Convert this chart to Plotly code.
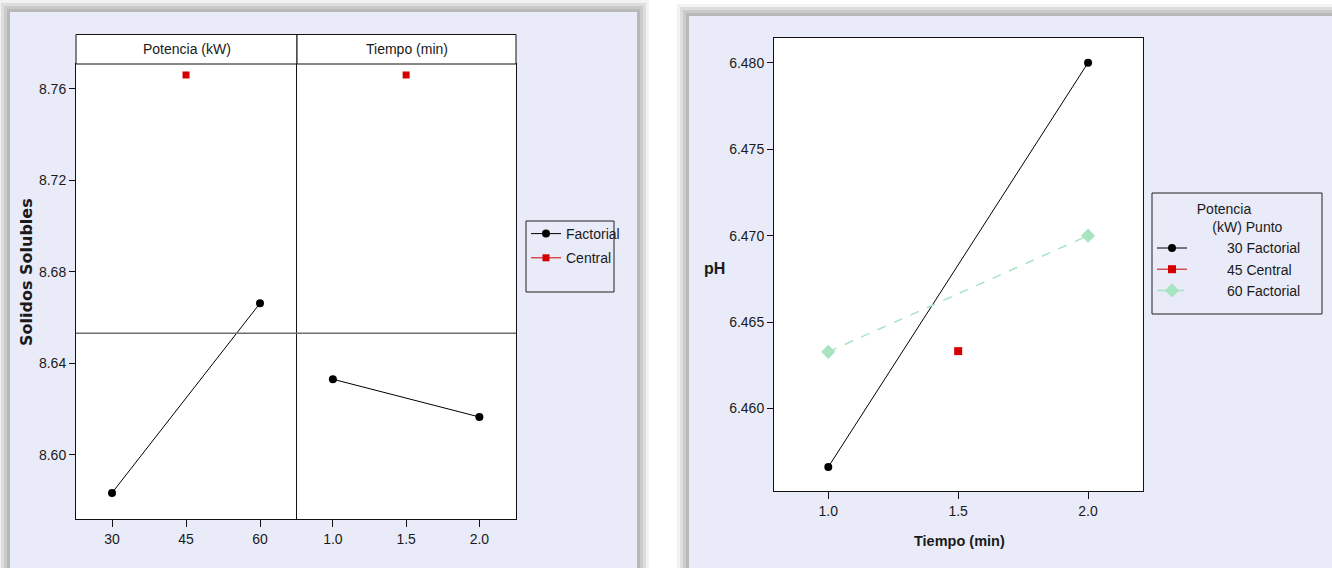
import plotly.graph_objects as go

W, H = 1332, 568

# ---------------- data ----------------
# Left chart: main effects for "Solidos Solubles"
pot_levels = [30, 60]
ss_pot = [8.5834, 8.6663]
tiempo_levels = [1.0, 2.0]
ss_tiempo = [8.6331, 8.6166]
pot_central = [45]
tiempo_central = [1.5]
ss_central = [8.7661]
ss_mean = 8.6532

ss_ticks = [8.60, 8.64, 8.68, 8.72, 8.76]
pot_ticks = [30, 45, 60]
pot_ticktext = ["30", "45", "60"]
tiempo_ticks = [1.0, 1.5, 2.0]
tiempo_ticktext = ["1.0", "1.5", "2.0"]

# Right chart: interaction plot for pH
ph_tiempo = [1.0, 2.0]
ph_30 = [6.45662, 6.480]
ph_60 = [6.46328, 6.470]
ph_central_t = [1.5]
ph_45 = [6.46332]
ph_ticks = [6.460, 6.465, 6.470, 6.475, 6.480]

# ---------------- helpers ----------------
def px(x):
    return x / W

def py(y):
    return 1 - y / H

FONT = "Liberation Sans, Arial, sans-serif"
BOLD_WIDE = "DejaVu Sans, Verdana, sans-serif"
TXT = "#1a1a1a"
LAV = "#E9EBF8"
NB = "\u00a0"
FS = 14
XDIV = 297  # pixel boundary between the two left panels

fig = go.Figure()

# ---------------- traces ----------------
fig.add_trace(go.Scatter(x=pot_levels, y=ss_pot, xaxis="x", yaxis="y",
                         mode="lines+markers", name="Factorial", legend="legend",
                         legendgroup="fact",
                         line=dict(color="black", width=1),
                         marker=dict(symbol="circle", size=8, color="black")))
fig.add_trace(go.Scatter(x=tiempo_levels, y=ss_tiempo, xaxis="x2", yaxis="y2",
                         mode="lines+markers", name="Factorial", legendgroup="fact",
                         showlegend=False,
                         line=dict(color="black", width=1),
                         marker=dict(symbol="circle", size=8, color="black")))
fig.add_trace(go.Scatter(x=pot_central, y=ss_central, xaxis="x", yaxis="y",
                         mode="lines+markers", name="Central", legend="legend",
                         legendgroup="cent",
                         line=dict(color="#D40000", width=1),
                         marker=dict(symbol="square", size=7, color="#D40000")))
fig.add_trace(go.Scatter(x=tiempo_central, y=ss_central, xaxis="x2", yaxis="y2",
                         mode="lines+markers", name="Central", legendgroup="cent",
                         showlegend=False,
                         line=dict(color="#D40000", width=1),
                         marker=dict(symbol="square", size=7, color="#D40000")))

fig.add_trace(go.Scatter(x=ph_tiempo, y=ph_30, xaxis="x3", yaxis="y3",
                         mode="lines+markers", legend="legend2",
                         name=NB * 9 + "30 Factorial",
                         line=dict(color="black", width=1),
                         marker=dict(symbol="circle", size=8, color="black")))
fig.add_trace(go.Scatter(x=ph_central_t, y=ph_45, xaxis="x3", yaxis="y3",
                         mode="lines+markers", legend="legend2",
                         name=NB * 9 + "45 Central",
                         line=dict(color="#D40000", width=1),
                         marker=dict(symbol="square", size=8, color="#D40000")))
fig.add_trace(go.Scatter(x=ph_tiempo, y=ph_60, xaxis="x3", yaxis="y3",
                         mode="lines+markers", legend="legend2",
                         name=NB * 9 + "60 Factorial",
                         line=dict(color="#A8E4C2", width=1.5, dash="dash"),
                         marker=dict(symbol="diamond", size=11, color="#A8E4C2")))

# ---------------- axes ----------------
base = dict(showgrid=False, zeroline=False, showline=True,
            linecolor="#111", linewidth=1, ticks="outside", tickcolor="#111",
            tickfont=dict(family=FONT, size=FS, color=TXT))

fig.update_layout(
    xaxis=dict(domain=[px(76), px(XDIV)], range=[22.7, 67.5], anchor="y", mirror=True,
               tickvals=pot_ticks, ticktext=pot_ticktext, ticklen=7, **base),
    yaxis=dict(domain=[py(519), py(64)], range=[8.5720, 8.7709], anchor="x", mirror=False,
               tickvals=ss_ticks, tickformat=".2f", ticklen=6, **base),
    xaxis2=dict(domain=[px(XDIV), px(516)], range=[0.755, 2.25], anchor="y2", mirror=True,
                tickvals=tiempo_ticks, ticktext=tiempo_ticktext, ticklen=7, **base),
    yaxis2=dict(domain=[py(519), py(64)], range=[8.5720, 8.7709], anchor="x2",
                showgrid=False, zeroline=False, showline=True, mirror=True,
                linecolor="#111", linewidth=1, showticklabels=False, ticks=""),
    xaxis3=dict(domain=[px(774), px(1143)], range=[0.791, 2.2115], anchor="y3", mirror=True,
                tickvals=tiempo_ticks, ticktext=tiempo_ticktext, ticklen=7, **base),
    yaxis3=dict(domain=[py(491), py(38)], range=[6.45523, 6.48143], anchor="x3", mirror=True,
                tickvals=ph_ticks, tickformat=".3f", ticklen=6, **base),
)

# ---------------- background shapes (panels with soft shadows) ----------------
shapes = []
panels = [(10, 12, 637, 572), (689, 16, 1336, 572)]
shadow = [(12, "#F2F2F2"), (9, "#DEDEDE"), (6, "#CBCBCB"), (3, "#B8B8B8")]
for (x0, y0, x1, y1) in panels:
    for d, c in shadow:
        shapes.append(dict(type="rect", xref="paper", yref="paper", layer="below",
                           x0=px(x0 - d), x1=px(x1 + d), y0=py(y1 + d), y1=py(y0 - d),
                           fillcolor=c, line=dict(width=0)))
    shapes.append(dict(type="rect", xref="paper", yref="paper", layer="below",
                       x0=px(x0), x1=px(x1), y0=py(y1), y1=py(y0),
                       fillcolor=LAV, line=dict(width=0)))
# white plot areas
for (x0, y0, x1, y1) in [(76, 64, 516, 519), (774, 38, 1143, 491)]:
    shapes.append(dict(type="rect", xref="paper", yref="paper", layer="below",
                       x0=px(x0), x1=px(x1), y0=py(y1), y1=py(y0),
                       fillcolor="white", line=dict(width=0)))
# header boxes of the left chart
for ax in ["x", "x2"]:
    shapes.append(dict(type="rect", xref=f"{ax} domain", yref="paper",
                       x0=0, x1=1, y0=py(64), y1=py(34.5),
                       fillcolor="white", line=dict(color="#111", width=1)))
# grand-mean reference line
for ax, ay in [("x", "y"), ("x2", "y2")]:
    shapes.append(dict(type="line", xref=f"{ax} domain", yref=ay,
                       x0=0, x1=1, y0=ss_mean, y1=ss_mean,
                       line=dict(color="#707070", width=1.5)))
# legend boxes
for (x0, y0, x1, y1) in [(526, 221, 614, 292), (1152, 193, 1322, 314)]:
    shapes.append(dict(type="rect", xref="paper", yref="paper",
                       x0=px(x0), x1=px(x1), y0=py(y1), y1=py(y0),
                       fillcolor="rgba(0,0,0,0)", line=dict(color="#222", width=1)))

# ---------------- annotations ----------------
def label(text, x, y, size, family=FONT, angle=0, xref="paper"):
    return dict(text=text, xref=xref, yref="paper", x=x, y=y,
                xanchor="center", yanchor="middle", textangle=angle,
                showarrow=False, font=dict(family=family, size=size, color=TXT))

ann = [
    label("Potencia (kW)", 0.5, py(49.5), FS, xref="x domain"),
    label("Tiempo (min)", 0.5, py(49.5), FS, xref="x2 domain"),
    label("<b>Solidos Solubles</b>", px(26), py(272), 16, family=BOLD_WIDE, angle=-90),
    label("<b>pH</b>", px(714.5), py(268), 16),
    label("<b>Tiempo (min)</b>", px(959), py(541), 14.5),
]

fig.update_layout(
    width=W, height=H, autosize=False,
    margin=dict(l=0, r=0, t=0, b=0, autoexpand=False),
    paper_bgcolor="white", plot_bgcolor="rgba(0,0,0,0)",
    shapes=shapes, annotations=ann,
    font=dict(family=FONT, size=FS, color=TXT),
    legend=dict(x=px(526), xanchor="left", y=py(218), yanchor="top",
                bgcolor="rgba(0,0,0,0)", borderwidth=0,
                font=dict(family=FONT, size=FS, color=TXT),
                tracegroupgap=3, traceorder="grouped"),
    legend2=dict(x=px(1152), xanchor="left", y=py(196), yanchor="top",
                 bgcolor="rgba(0,0,0,0)", borderwidth=0,
                 font=dict(family=FONT, size=FS, color=TXT),
                 tracegroupgap=0,
                 title=dict(text=NB * 11 + "Potencia<br>" + NB * 15 + "(kW)" + NB + "Punto",
                            side="top",
                            font=dict(family=FONT, size=FS, color=TXT))),
)

fig.write_html("out.html")
